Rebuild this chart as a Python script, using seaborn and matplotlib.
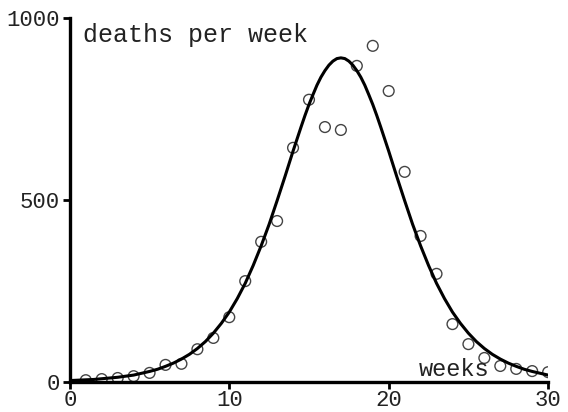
import matplotlib
matplotlib.use("Agg")
import matplotlib.pyplot as plt
import seaborn as sns
import pandas as pd

weeks = list(range(1, 31))
deaths = [5, 8, 11, 16, 25, 47, 50, 90, 121, 178, 277, 385, 442, 643, 775,
          700, 692, 868, 923, 799, 577, 401, 297, 159, 104, 66, 44, 36, 30, 27]

# fitted curve (finer steps near the peak)
curve_t = [0, 0.5, 1, 1.5, 2, 2.5, 3, 3.5, 4, 4.5, 5, 5.5, 6, 6.5, 7, 7.5, 8,
           8.5, 9, 9.5, 10, 10.5, 11, 11.5, 12, 12.5, 13, 13.5, 14, 14.25,
           14.5, 14.75, 15, 15.25, 15.5, 15.75, 16, 16.25, 16.5, 16.75, 17,
           17.25, 17.5, 17.75, 18, 18.25, 18.5, 18.75, 19, 19.25, 19.5, 19.75,
           20, 20.5, 21, 21.5, 22, 22.5, 23, 23.5, 24, 24.5, 25, 25.5, 26,
           26.5, 27, 27.5, 28, 28.5, 29, 29.5, 30]
curve_y = [4, 5, 6, 7, 9, 11, 13, 16, 19, 24, 29, 35, 43, 52, 63, 76, 92,
           111, 134, 161, 192, 229, 271, 320, 374, 433, 498, 565, 634, 667,
           700, 732, 762, 789, 815, 837, 855, 870, 881, 888, 890,
           888, 881, 870, 855, 837, 815, 789, 762, 732, 700, 667,
           634, 565, 498, 433, 374, 320, 271, 229, 192, 161, 134, 111, 92,
           76, 63, 52, 43, 35, 29, 24, 19]

obs = pd.DataFrame({"week": weeks, "deaths": deaths})
fit = pd.DataFrame({"week": curve_t, "deaths": curve_y})

sns.set_theme(style="ticks")
plt.rcParams["font.family"] = ["Liberation Mono", "DejaVu Sans Mono"]

fig = plt.figure(figsize=(5.68, 4.12), dpi=100)
ax = fig.add_axes([0.123, 0.0728, 0.842, 0.884])

sns.lineplot(data=fit, x="week", y="deaths", color="black", lw=2.2, ax=ax)
sns.scatterplot(data=obs, x="week", y="deaths", s=60, facecolor="none",
                edgecolor="#444444", linewidth=1.0, ax=ax)

ax.set_xlim(0, 30)
ax.set_ylim(0, 1000)
ax.set_xticks([0, 10, 20, 30])
ax.set_yticks([0, 500, 1000])
ax.set_xlabel("")
ax.set_ylabel("")
ax.tick_params(axis="both", labelsize=16, length=5, width=2, color="black",
               labelcolor="#222222")
ax.tick_params(axis="x", pad=1)
ax.tick_params(axis="y", pad=2)
for side in ["top", "right"]:
    ax.spines[side].set_visible(False)
for side in ["left", "bottom"]:
    ax.spines[side].set_linewidth(2.4)
    ax.spines[side].set_color("black")

ax.text(0.027, 0.985, "deaths per week", transform=ax.transAxes, fontsize=18,
        ha="left", va="top", color="#222222")
ax.text(26.3, 3, "weeks", fontsize=17, ha="right", va="bottom", color="#222222")

fig.savefig("out.png", dpi=100)
